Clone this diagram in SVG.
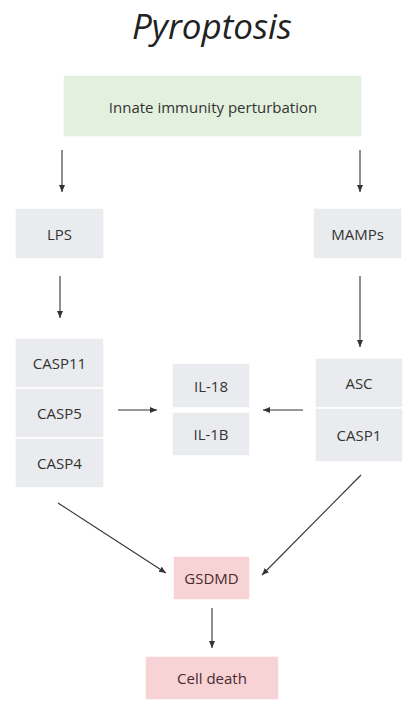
<svg xmlns="http://www.w3.org/2000/svg" width="404" height="704" viewBox="0 0 404 704">
  <style>
    .title { font-family: "Open Sans", "Liberation Sans", sans-serif; font-style: italic; font-size: 35px; fill: #222; }
    .lbl { font-family: "Open Sans", "Liberation Sans", sans-serif; font-size: 15px; fill: #333; text-anchor: middle; dominant-baseline: central; }
    .gray { fill: #e9ebee; stroke: #ffffff; stroke-width: 1.5; }
    .green { fill: #e3f0dd; stroke: #ffffff; stroke-width: 1.5; }
    .pink { fill: #f8d3d5; stroke: #ffffff; stroke-width: 1.5; }
    .pink-lbl { fill: #4a2a2c; }
    .edge { stroke: #333; stroke-width: 1.1; fill: none; marker-end: url(#arrow); }
  </style>
  <defs>
    <marker id="arrow" markerWidth="8" markerHeight="8" refX="7" refY="4" orient="auto" markerUnits="userSpaceOnUse">
      <path d="M0,1 L7,4 L0,7 Z" fill="#333"/>
    </marker>
  </defs>
  <rect width="404" height="704" fill="#ffffff"/>

  <text class="title" x="212" y="39" text-anchor="middle">Pyroptosis</text>

  <g id="innate">
    <rect class="green" x="63" y="75" width="299" height="62"/>
    <text class="lbl" x="213" y="107">Innate immunity perturbation</text>
  </g>

  <g id="lps">
    <rect class="gray" x="15" y="208" width="89" height="51"/>
    <text class="lbl" x="59.5" y="234">LPS</text>
  </g>

  <g id="mamps">
    <rect class="gray" x="313" y="208" width="89" height="51"/>
    <text class="lbl" x="357.5" y="234">MAMPs</text>
  </g>

  <g id="casp-noncanonical">
    <rect class="gray" x="15" y="338" width="89" height="50"/>
    <text class="lbl" x="59.5" y="363">CASP11</text>
    <rect class="gray" x="15" y="388" width="89" height="50"/>
    <text class="lbl" x="59.5" y="413">CASP5</text>
    <rect class="gray" x="15" y="438" width="89" height="50"/>
    <text class="lbl" x="59.5" y="463">CASP4</text>
  </g>

  <g id="cytokines">
    <rect class="gray" x="172" y="363" width="78" height="45"/>
    <text class="lbl" x="211" y="385.5">IL-18</text>
    <rect class="gray" x="172" y="412" width="78" height="44"/>
    <text class="lbl" x="211" y="434">IL-1B</text>
  </g>

  <g id="inflammasome">
    <rect class="gray" x="315" y="358" width="88" height="50"/>
    <text class="lbl" x="359" y="383">ASC</text>
    <rect class="gray" x="315" y="408" width="88" height="54"/>
    <text class="lbl" x="359" y="435">CASP1</text>
  </g>

  <g id="gsdmd">
    <rect class="pink" x="173" y="556" width="77" height="44"/>
    <text class="lbl pink-lbl" x="211.5" y="578">GSDMD</text>
  </g>

  <g id="cell-death">
    <rect class="pink" x="145" y="656" width="134" height="44"/>
    <text class="lbl pink-lbl" x="212" y="678">Cell death</text>
  </g>

  <g id="connectors">
    <line class="edge" x1="62" y1="150" x2="62" y2="192"/>
    <line class="edge" x1="360" y1="150" x2="360" y2="192"/>
    <line class="edge" x1="60" y1="276" x2="60" y2="318"/>
    <line class="edge" x1="360" y1="276" x2="360" y2="347"/>
    <line class="edge" x1="118" y1="410" x2="157" y2="410"/>
    <line class="edge" x1="303" y1="410" x2="263" y2="410"/>
    <line class="edge" x1="58" y1="503" x2="166" y2="573"/>
    <line class="edge" x1="361" y1="475" x2="262" y2="575"/>
    <line class="edge" x1="212" y1="608" x2="212" y2="648"/>
  </g>
</svg>
